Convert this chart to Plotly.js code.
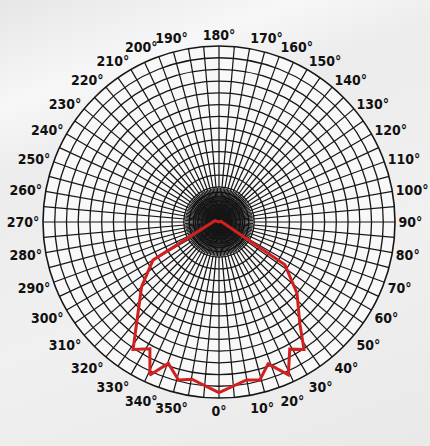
<!DOCTYPE html>
<html>
<head>
<meta charset="utf-8">
<script src="https://cdn.plot.ly/plotly-3.0.1.min.js"></script>
<style>
html,body{margin:0;padding:0;}
body{width:430px;height:446px;overflow:hidden;
background:linear-gradient(160deg,#e6e6e6 0%,#f7f7f7 18%,#ececec 30%,#f0f0f0 60%,#e9e9e9 100%);}
#chart{width:430px;height:446px;}
</style>
</head>
<body>
<div id="chart"></div>
<script>
// Light distribution curve (angle in degrees, relative intensity 0-150)
var angles = [0, 9.9, 14.5, 19.1, 24.4, 29.1, 33.7, 38.7, 47.6, 57, 115, 180, 252,
              300, 309.9, 326, 331.4, 335.7, 340.3, 345.6, 350.2, 360];
var intensity = [145.5, 136.7, 139, 128, 143, 124, 130.5, 110, 90, 67, 1.7, 0, 3.6,
                 65, 86, 131, 123, 143, 128, 139, 136, 145.5];

// Angular grid every 5 degrees, labels every 10 degrees
var gridAngles = [];
var gridLabels = [];
for (var a = 0; a < 360; a += 5) {
  gridAngles.push(a);
  gridLabels.push(a % 10 === 0 ? a + '°' : '');
}
// Extra dense radial lines close to the centre (offset 2.5 degrees)
var innerAngles = [];
for (var b = 2.5; b < 360; b += 5) innerAngles.push(b);

var mainDomain = {x: [0.1, 0.9186], y: [0.1076, 0.8969]};

var bgTrace = {type: 'scatterpolar', subplot: 'polar', mode: 'lines', r: [], theta: [], hoverinfo: 'none'};
var innerTrace = {type: 'scatterpolar', subplot: 'polar2', mode: 'lines', r: [], theta: [], hoverinfo: 'none'};
var trace = {
  type: 'scatterpolar',
  subplot: 'polar3',
  mode: 'lines',
  r: intensity,
  theta: angles,
  line: {color: '#d21f1f', width: 3},
  hoverinfo: 'none'
};

var tickFont = {family: 'DejaVu Sans Condensed, Liberation Sans Narrow, sans-serif', size: 14, color: '#111111', weight: 'bold'};
var hiddenRadial = {range: [0, 1], showticklabels: false, ticks: '', showline: false, showgrid: false};

var layout = {
  width: 430,
  height: 446,
  margin: {l: 0, r: 0, t: 0, b: 0},
  paper_bgcolor: 'rgba(0,0,0,0)',
  showlegend: false,
  polar: {
    domain: mainDomain,
    bgcolor: '#f8f8f8',
    radialaxis: hiddenRadial,
    angularaxis: {showgrid: false, showticklabels: false, ticks: '', showline: false}
  },
  polar2: {
    domain: {x: [0.4302, 0.5884], y: [0.4260, 0.5785]},
    bgcolor: 'rgba(0,0,0,0)',
    radialaxis: {range: [0, 1], dtick: 0.125, showticklabels: false, ticks: '', showline: false,
                 gridcolor: '#111111', gridwidth: 1.4},
    angularaxis: {
      rotation: -90, direction: 'counterclockwise',
      tickmode: 'array', tickvals: innerAngles, showticklabels: false, ticks: '',
      showline: false, gridcolor: '#111111', gridwidth: 1.2
    }
  },
  polar3: {
    domain: mainDomain,
    bgcolor: 'rgba(0,0,0,0)',
    radialaxis: {
      range: [0, 150],
      dtick: 10,
      showticklabels: false,
      ticks: '',
      showline: false,
      gridcolor: '#161616',
      gridwidth: 1.3
    },
    angularaxis: {
      rotation: -90,
      direction: 'counterclockwise',
      tickmode: 'array',
      tickvals: gridAngles,
      ticktext: gridLabels,
      ticks: '',
      gridcolor: '#161616',
      gridwidth: 1.2,
      linecolor: '#161616',
      linewidth: 1.6,
      tickfont: tickFont
    }
  }
};

Plotly.newPlot('chart', [bgTrace, innerTrace, trace], layout, {displayModeBar: false, staticPlot: true});
</script>
</body>
</html>
